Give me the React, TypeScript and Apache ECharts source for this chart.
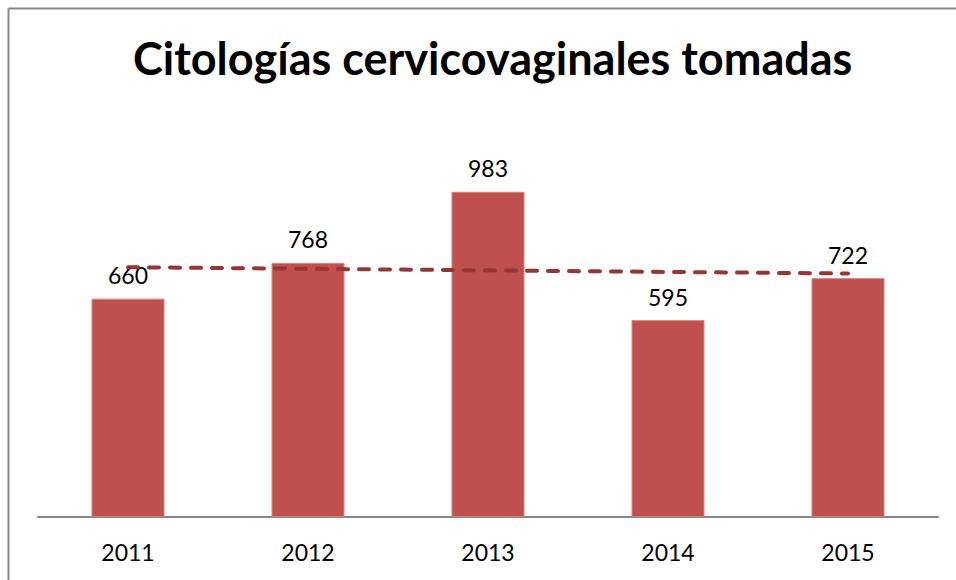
import React, { useEffect, useRef } from "react";
import * as echarts from "echarts";

const titleText = "Citologías cervicovaginales tomadas";
const years = ["2011", "2012", "2013", "2014", "2015"];
const counts = [660, 768, 983, 595, 722];
// linear trend line end values
const trendStart = 755;
const trendEnd = 736;

export default function App() {
  const ref = useRef<HTMLDivElement>(null);
  useEffect(() => {
    if (!ref.current) return;
    const chart = echarts.init(ref.current, null, { renderer: "svg" });
    const font = "Lato, 'Open Sans', sans-serif";
    chart.setOption({
      animation: false,
      backgroundColor: "#ffffff",
      title: {
        text: titleText,
        left: 133,
        top: 35,
        padding: 0,
        textStyle: { fontFamily: font, fontWeight: "bold", fontSize: 45, color: "#000000" },
      },
      graphic: [
        { type: "line", shape: { x1: 8.5, y1: 8.5, x2: 956, y2: 8.5 }, style: { stroke: "#888888", lineWidth: 2 } },
        { type: "line", shape: { x1: 8.5, y1: 8.5, x2: 8.5, y2: 580 }, style: { stroke: "#888888", lineWidth: 2 } },
      ],
      grid: { left: 38, right: 18, top: 120, bottom: 63 },
      xAxis: {
        type: "category",
        data: years,
        axisTick: { show: false },
        axisLine: { lineStyle: { color: "#888888", width: 2 } },
        axisLabel: { fontFamily: font, fontSize: 23, color: "#000000", margin: 23 },
      },
      yAxis: { type: "value", min: 0, max: 1200, show: false },
      series: [
        {
          type: "bar",
          data: counts,
          barWidth: 73,
          itemStyle: { color: "#C0504D", borderColor: "#D4827F", borderWidth: 1 },
          label: {
            show: true,
            position: "top",
            distance: 12,
            fontFamily: font,
            fontSize: 23,
            color: "#000000",
          },
          markLine: {
            symbol: ["none", "none"],
            silent: true,
            label: { show: false },
            lineStyle: { color: "#963634", width: 4, type: [10, 11], cap: "round" },
            data: [[{ coord: [years[0], trendStart] }, { coord: [years[years.length - 1], trendEnd] }]],
          },
        },
      ],
    });
    return () => chart.dispose();
  }, []);
  return <div ref={ref} style={{ position: "fixed", left: 0, top: 0, width: 956, height: 580 }} />;
}
